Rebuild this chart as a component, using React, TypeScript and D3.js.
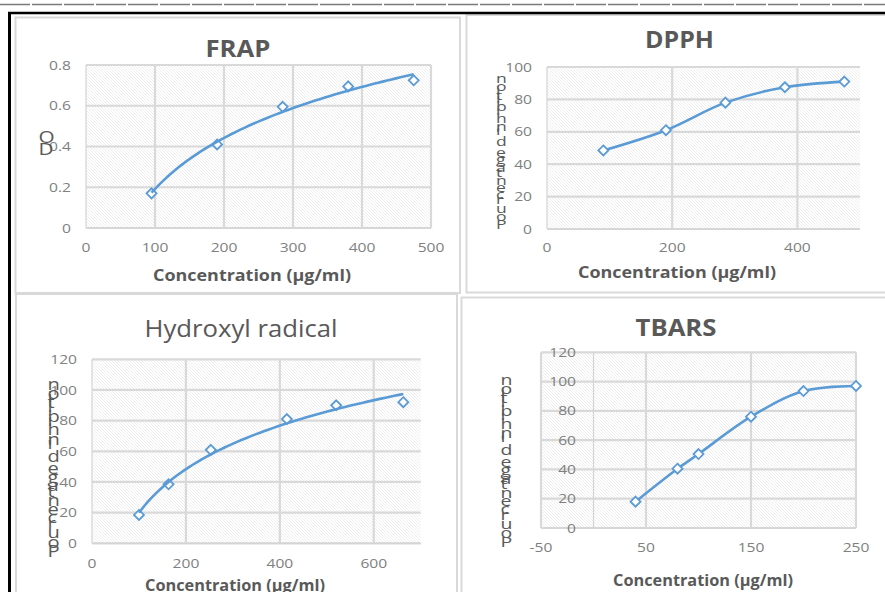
import React from "react";
import * as d3 from "d3";

// values
const frapConc = [95, 190, 285, 380, 475];
const frapOD = [0.17, 0.41, 0.595, 0.695, 0.725];

const dpphConc = [90, 190, 285, 380, 475];
const dpphInhib = [48.5, 61, 78, 87.5, 91];

const hydroxylConc = [100, 163, 253, 415, 520, 663];
const hydroxylInhib = [18.5, 38.5, 61, 81, 90, 92];

const tbarsConc = [40, 80, 100, 150, 200, 250];
const tbarsInhib = [18, 40.5, 50.5, 76, 93.5, 97];

// axis ticks
const frapXTicks = [0, 100, 200, 300, 400, 500];
const frapYTicks = [0, 0.2, 0.4, 0.6, 0.8];
const dpphXTicks = [0, 200, 400];
const dpphYTicks = [0, 20, 40, 60, 80, 100];
const hydroxylXTicks = [0, 200, 400, 600];
const hydroxylYTicks = [0, 20, 40, 60, 80, 100, 120];
const tbarsXTicks = [-50, 50, 150, 250];
const tbarsYTicks = [0, 20, 40, 60, 80, 100, 120];

const xTitle = "Concentration (µg/ml)";
const inhibLabel = "Pourcentage d'inhibition";
const odLabel = "DO";

const BLUE = "#5b9bd5";
const GRID = "#d9d9d9";
const TICK = "#808080";
const DARK = "#595959";
const FONT = "'Open Sans', sans-serif";

// excel style log trendline: y = a ln(x) + b
function logFit(xs: number[], ys: number[]) {
  const lx = xs.map(Math.log);
  const mx = d3.mean(lx) as number;
  const my = d3.mean(ys) as number;
  const sxy = d3.sum(lx, (v, i) => (v - mx) * (ys[i] - my));
  const sxx = d3.sum(lx, (v) => (v - mx) * (v - mx));
  const a = sxy / sxx;
  const b = my - a * mx;
  return (x: number) => a * Math.log(x) + b;
}

const panels = [
  {
    id: "frap",
    box: [15.5, 17.5, 444.5, 275.5],
    plot: { l: 86, r: 431, t: 65, b: 228 },
    xDomain: [0, 500], yDomain: [0, 0.8],
    xTicks: frapXTicks, yTicks: frapYTicks,
    xs: frapConc, ys: frapOD, mode: "log",
    title: "FRAP", titleBold: true, titlePos: [238, 56.5], titleW: 65,
    xTitlePos: [252, 281], xTitleW: 198,
    yLab: odLabel, yLabPos: [38.5, 155], yLabSize: 16,
    yTickX: 71, xTickY: 252, yAxisAt: 0,
  },
  {
    id: "dpph",
    box: [466.5, 15, 420, 277.5],
    plot: { l: 547, r: 860, t: 67, b: 229 },
    xDomain: [0, 500], yDomain: [0, 100],
    xTicks: dpphXTicks, yTicks: dpphYTicks,
    xs: dpphConc, ys: dpphInhib, mode: "smooth",
    title: "DPPH", titleBold: true, titlePos: [679.5, 48], titleW: 69,
    xTitlePos: [677, 278], xTitleW: 198,
    yLab: inhibLabel, yLabPos: [496, 229], yLabSize: 13.5,
    yTickX: 532, xTickY: 252, yAxisAt: 0,
  },
  {
    id: "hydroxyl",
    box: [16, 294, 441, 310],
    plot: { l: 92, r: 420.7, t: 359.3, b: 543.3 },
    xDomain: [0, 700], yDomain: [0, 120],
    xTicks: hydroxylXTicks, yTicks: hydroxylYTicks,
    xs: hydroxylConc, ys: hydroxylInhib, mode: "log",
    title: "Hydroxyl radical", titleBold: false, titlePos: [241, 336.5], titleW: 193,
    xTitlePos: [235, 590.5], xTitleW: 180,
    yLab: inhibLabel, yLabPos: [47.5, 557], yLabSize: 15.5,
    yTickX: 77, xTickY: 568, yAxisAt: 0,
  },
  {
    id: "tbars",
    box: [461.5, 297.5, 430, 310],
    plot: { l: 541, r: 856, t: 352.3, b: 528 },
    xDomain: [-50, 250], yDomain: [0, 120],
    xTicks: tbarsXTicks, yTicks: tbarsYTicks,
    xs: tbarsConc, ys: tbarsInhib, mode: "smooth",
    title: "TBARS", titleBold: true, titlePos: [676, 336], titleW: 81,
    xTitlePos: [703, 586], xTitleW: 180,
    yLab: inhibLabel, yLabPos: [500.5, 547], yLabSize: 15,
    yTickX: 576, xTickY: 552, yAxisAt: 0,
  },
];

const Panel = ({ p }: { p: any }) => {
  const x = d3.scaleLinear().domain(p.xDomain).range([p.plot.l, p.plot.r]);
  const y = d3.scaleLinear().domain(p.yDomain).range([p.plot.b, p.plot.t]);
  const [bx, by, bw, bh] = p.box;
  const axisX = x(p.yAxisAt);

  let linePath = "";
  if (p.mode === "log") {
    const f = logFit(p.xs, p.ys);
    const x0 = p.xs[0];
    const x1 = p.xs[p.xs.length - 1];
    const pts = d3.range(60).map((i) => {
      const v = x0 + ((x1 - x0) * i) / 59;
      return [x(v), y(f(v))] as [number, number];
    });
    linePath = d3.line()(pts) || "";
  } else {
    linePath =
      d3.line<number>()
        .x((d) => x(d))
        .y((d, i) => y(p.ys[i]))
        .curve(d3.curveCatmullRom.alpha(0.5))(p.xs) || "";
  }

  const r = 5;
  const markers = p.xs.map((v: number, i: number) => (
    <path
      key={i}
      d={`M${x(v)},${y(p.ys[i]) - r}L${x(v) + r},${y(p.ys[i])}L${x(v)},${y(p.ys[i]) + r}L${x(v) - r},${y(p.ys[i])}Z`}
      fill="#fff"
      stroke={BLUE}
      strokeWidth={1.8}
    />
  ));

  return (
    <g>
      <rect x={bx} y={by} width={bw} height={bh} fill="#fff" stroke={GRID} strokeWidth={2} />
      <rect
        x={p.plot.l} y={p.plot.t}
        width={p.plot.r - p.plot.l} height={p.plot.b - p.plot.t}
        fill="url(#hatch)"
      />
      {p.yTicks.map((t: number) => (
        <line key={"h" + t} x1={p.plot.l} x2={p.plot.r} y1={y(t)} y2={y(t)} stroke={GRID} strokeWidth={2.2} />
      ))}
      {p.xTicks.filter((t: number) => t !== p.yAxisAt).map((t: number) => (
        <line key={"v" + t} x1={x(t)} x2={x(t)} y1={p.plot.t} y2={p.plot.b} stroke={GRID} strokeWidth={2.2} />
      ))}
      <line x1={axisX} x2={axisX} y1={p.plot.t} y2={p.plot.b} stroke="#d4d4d4" strokeWidth={1.2} />
      <line x1={p.plot.l} x2={p.plot.r} y1={y(0)} y2={y(0)} stroke="#d4d4d4" strokeWidth={1.2} />
      {p.yTicks.map((t: number) => (
        <text
          key={"yl" + t}
          transform={`translate(${p.yTickX},${y(t)}) scale(1.2,1)`}
          dy="0.35em" textAnchor="end" fontSize={13} fill={TICK} fontFamily={FONT}
        >
          {String(t)}
        </text>
      ))}
      {p.xTicks.map((t: number) => (
        <text
          key={"xl" + t}
          transform={`translate(${x(t)},${p.xTickY}) scale(1.2,1)`}
          textAnchor="middle" fontSize={13} fill={TICK} fontFamily={FONT}
        >
          {String(t)}
        </text>
      ))}
      {p.mode === "log" ? (
        <>
          {markers}
          <path d={linePath} fill="none" stroke={BLUE} strokeWidth={2.6} />
        </>
      ) : (
        <>
          <path d={linePath} fill="none" stroke={BLUE} strokeWidth={2.6} />
          {markers}
        </>
      )}
      <text
        x={p.titlePos[0]} y={p.titlePos[1]} textAnchor="middle"
        fontSize={24} fontWeight={p.titleBold ? 700 : 400} fill={DARK} fontFamily={FONT}
        textLength={p.titleW} lengthAdjust="spacingAndGlyphs"
      >
        {p.title}
      </text>
      <text
        x={p.xTitlePos[0]} y={p.xTitlePos[1]} textAnchor="middle"
        fontSize={15.5} fontWeight={700} fill={DARK} fontFamily={FONT}
        textLength={p.xTitleW} lengthAdjust="spacingAndGlyphs"
      >
        {xTitle}
      </text>
      {/* axis label drawn the way the source renderer broke it: upright glyphs stacked upward */}
      <text
        transform={`translate(${p.yLabPos[0]},${p.yLabPos[1]}) scale(1.3,1) rotate(-90)`}
        rotate="90" fontSize={p.yLabSize} fill={DARK} fontFamily={FONT}
      >
        {p.yLab}
      </text>
    </g>
  );
};

export default function App() {
  return (
    <svg
      width={885}
      height={592}
      style={{ position: "absolute", left: 0, top: 0, background: "#fff" }}
    >
      <defs>
        <pattern id="hatch" width={3} height={3} patternUnits="userSpaceOnUse">
          <rect width={3} height={3} fill="#fff" />
          <path d="M-1,-1L4,4M2,-1L4,1M-1,2L1,4" stroke="#e2e2e2" strokeWidth={0.6} />
        </pattern>
      </defs>
      <rect width={885} height={592} fill="#fff" />
      {panels.map((p) => (
        <Panel key={p.id} p={p} />
      ))}
      <line x1={0} x2={885} y1={4.5} y2={4.5} stroke="#7a7a7a" strokeWidth={1.5} strokeDasharray="30 2" />
      <line x1={8} x2={885} y1={13} y2={13} stroke="#000" strokeWidth={2.5} />
      <line x1={9.5} x2={9.5} y1={12} y2={592} stroke="#000" strokeWidth={3} />
    </svg>
  );
}
